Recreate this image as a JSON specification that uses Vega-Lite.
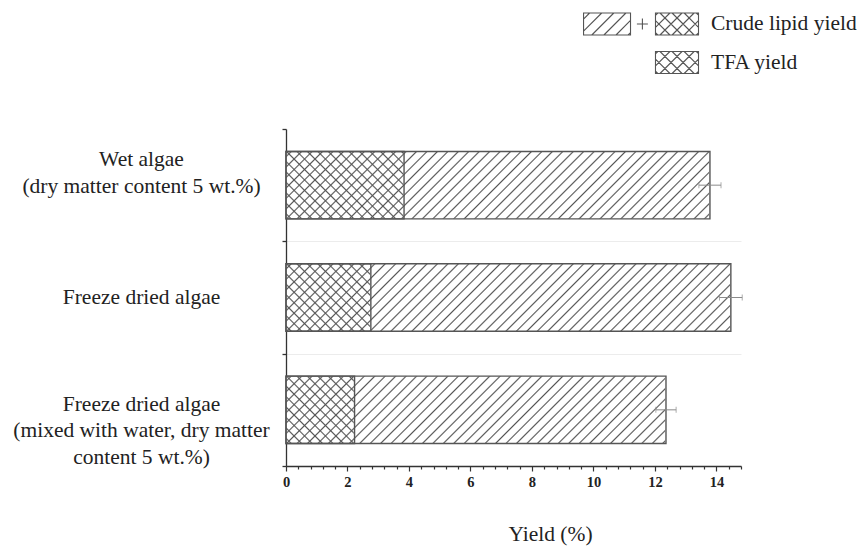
{
  "$schema": "https://vega.github.io/schema/vega-lite/v6.json",
  "width": 455,
  "height": 337,
  "autosize": {"type": "none"},
  "padding": {"left": 286, "top": 129, "right": 118, "bottom": 81},
  "background": "white",
  "config": {"view": {"stroke": null}, "font": "Liberation Serif, Times New Roman, serif"},
  "title": {"text": "Yield (%)", "orient": "bottom", "anchor": "middle", "frame": "group", "offset": 35, "dx": 37,
    "font": "Liberation Serif, Times New Roman, serif", "fontSize": 21.5, "fontWeight": "normal", "color": "#222"},
  "data": {"values": [
    {"sample": "Wet algae|(dry matter content 5 wt.%)", "Crude lipid yield": 13.79, "TFA yield": 3.84, "sd": 0.36},
    {"sample": "Freeze dried algae", "Crude lipid yield": 14.47, "TFA yield": 2.76, "sd": 0.37},
    {"sample": "Freeze dried algae|(mixed with water, dry matter|content 5 wt.%)", "Crude lipid yield": 12.36, "TFA yield": 2.23, "sd": 0.33}
  ]},
  "encoding": {
    "y": {
      "field": "sample", "type": "nominal", "sort": null, "title": null,
      "scale": {"paddingInner": 0, "paddingOuter": 0},
      "axis": {
        "labels": false,
        "tickBand": "extent", "tickSize": 4, "tickColor": "#333", "tickWidth": 1.3,
        "domainColor": "#333", "domainWidth": 1.3,
        "grid": true,
        "gridColor": {"condition": {"test": "datum.extra", "value": "rgba(0,0,0,0)"}, "value": "#ececec"}
      }
    }
  },
  "layer": [
    {
      "mark": {"type": "bar", "height": {"band": 0.6}, "fill": {"gradient": "linear", "x1": 0, "y1": 1, "x2": 1.12348, "y2": 0.83358, "stops": [
        {"offset":0.007,"color":"#fff"},{"offset":0.01,"color":"#555"},{"offset":0.013,"color":"#fff"},
        {"offset":0.027,"color":"#fff"},{"offset":0.03,"color":"#555"},{"offset":0.033,"color":"#fff"},
        {"offset":0.047,"color":"#fff"},{"offset":0.05,"color":"#555"},{"offset":0.053,"color":"#fff"},
        {"offset":0.067,"color":"#fff"},{"offset":0.07,"color":"#555"},{"offset":0.073,"color":"#fff"},
        {"offset":0.087,"color":"#fff"},{"offset":0.09,"color":"#555"},{"offset":0.093,"color":"#fff"},
        {"offset":0.107,"color":"#fff"},{"offset":0.11,"color":"#555"},{"offset":0.113,"color":"#fff"},
        {"offset":0.127,"color":"#fff"},{"offset":0.13,"color":"#555"},{"offset":0.133,"color":"#fff"},
        {"offset":0.147,"color":"#fff"},{"offset":0.15,"color":"#555"},{"offset":0.153,"color":"#fff"},
        {"offset":0.167,"color":"#fff"},{"offset":0.17,"color":"#555"},{"offset":0.173,"color":"#fff"},
        {"offset":0.187,"color":"#fff"},{"offset":0.19,"color":"#555"},{"offset":0.193,"color":"#fff"},
        {"offset":0.207,"color":"#fff"},{"offset":0.21,"color":"#555"},{"offset":0.213,"color":"#fff"},
        {"offset":0.227,"color":"#fff"},{"offset":0.23,"color":"#555"},{"offset":0.233,"color":"#fff"},
        {"offset":0.247,"color":"#fff"},{"offset":0.25,"color":"#555"},{"offset":0.253,"color":"#fff"},
        {"offset":0.267,"color":"#fff"},{"offset":0.27,"color":"#555"},{"offset":0.273,"color":"#fff"},
        {"offset":0.287,"color":"#fff"},{"offset":0.29,"color":"#555"},{"offset":0.293,"color":"#fff"},
        {"offset":0.307,"color":"#fff"},{"offset":0.31,"color":"#555"},{"offset":0.313,"color":"#fff"},
        {"offset":0.327,"color":"#fff"},{"offset":0.33,"color":"#555"},{"offset":0.333,"color":"#fff"},
        {"offset":0.347,"color":"#fff"},{"offset":0.35,"color":"#555"},{"offset":0.353,"color":"#fff"},
        {"offset":0.367,"color":"#fff"},{"offset":0.37,"color":"#555"},{"offset":0.373,"color":"#fff"},
        {"offset":0.387,"color":"#fff"},{"offset":0.39,"color":"#555"},{"offset":0.393,"color":"#fff"},
        {"offset":0.407,"color":"#fff"},{"offset":0.41,"color":"#555"},{"offset":0.413,"color":"#fff"},
        {"offset":0.427,"color":"#fff"},{"offset":0.43,"color":"#555"},{"offset":0.433,"color":"#fff"},
        {"offset":0.447,"color":"#fff"},{"offset":0.45,"color":"#555"},{"offset":0.453,"color":"#fff"},
        {"offset":0.467,"color":"#fff"},{"offset":0.47,"color":"#555"},{"offset":0.473,"color":"#fff"},
        {"offset":0.487,"color":"#fff"},{"offset":0.49,"color":"#555"},{"offset":0.493,"color":"#fff"},
        {"offset":0.507,"color":"#fff"},{"offset":0.51,"color":"#555"},{"offset":0.513,"color":"#fff"},
        {"offset":0.527,"color":"#fff"},{"offset":0.53,"color":"#555"},{"offset":0.533,"color":"#fff"},
        {"offset":0.547,"color":"#fff"},{"offset":0.55,"color":"#555"},{"offset":0.553,"color":"#fff"},
        {"offset":0.567,"color":"#fff"},{"offset":0.57,"color":"#555"},{"offset":0.573,"color":"#fff"},
        {"offset":0.587,"color":"#fff"},{"offset":0.59,"color":"#555"},{"offset":0.593,"color":"#fff"},
        {"offset":0.607,"color":"#fff"},{"offset":0.61,"color":"#555"},{"offset":0.613,"color":"#fff"},
        {"offset":0.627,"color":"#fff"},{"offset":0.63,"color":"#555"},{"offset":0.633,"color":"#fff"},
        {"offset":0.647,"color":"#fff"},{"offset":0.65,"color":"#555"},{"offset":0.653,"color":"#fff"},
        {"offset":0.667,"color":"#fff"},{"offset":0.67,"color":"#555"},{"offset":0.673,"color":"#fff"},
        {"offset":0.687,"color":"#fff"},{"offset":0.69,"color":"#555"},{"offset":0.693,"color":"#fff"},
        {"offset":0.707,"color":"#fff"},{"offset":0.71,"color":"#555"},{"offset":0.713,"color":"#fff"},
        {"offset":0.727,"color":"#fff"},{"offset":0.73,"color":"#555"},{"offset":0.733,"color":"#fff"},
        {"offset":0.747,"color":"#fff"},{"offset":0.75,"color":"#555"},{"offset":0.753,"color":"#fff"},
        {"offset":0.767,"color":"#fff"},{"offset":0.77,"color":"#555"},{"offset":0.773,"color":"#fff"},
        {"offset":0.787,"color":"#fff"},{"offset":0.79,"color":"#555"},{"offset":0.793,"color":"#fff"},
        {"offset":0.807,"color":"#fff"},{"offset":0.81,"color":"#555"},{"offset":0.813,"color":"#fff"},
        {"offset":0.827,"color":"#fff"},{"offset":0.83,"color":"#555"},{"offset":0.833,"color":"#fff"},
        {"offset":0.847,"color":"#fff"},{"offset":0.85,"color":"#555"},{"offset":0.853,"color":"#fff"},
        {"offset":0.867,"color":"#fff"},{"offset":0.87,"color":"#555"},{"offset":0.873,"color":"#fff"},
        {"offset":0.887,"color":"#fff"},{"offset":0.89,"color":"#555"},{"offset":0.893,"color":"#fff"},
        {"offset":0.907,"color":"#fff"},{"offset":0.91,"color":"#555"},{"offset":0.913,"color":"#fff"},
        {"offset":0.927,"color":"#fff"},{"offset":0.93,"color":"#555"},{"offset":0.933,"color":"#fff"},
        {"offset":0.947,"color":"#fff"},{"offset":0.95,"color":"#555"},{"offset":0.953,"color":"#fff"},
        {"offset":0.967,"color":"#fff"},{"offset":0.97,"color":"#555"},{"offset":0.973,"color":"#fff"},
        {"offset":0.987,"color":"#fff"},{"offset":0.99,"color":"#555"},{"offset":0.993,"color":"#fff"}
      ]}},
      "encoding": {
        "x": {"datum": 0, "type": "quantitative", "title": null,
          "scale": {"domain": [0, 14.8], "nice": false, "zero": true},
          "axis": {
            "values": [0,0.4,0.8,1.2,1.6,2,2.4,2.8,3.2,3.6,4,4.4,4.8,5.2,5.6,6,6.4,6.8,7.2,7.6,8,8.4,8.8,9.2,9.6,10,10.4,10.8,11.2,11.6,12,12.4,12.8,13.2,13.6,14,14.4,14.8],
            "tickCount": 40,
            "labelExpr": "datum.value % 2 === 0 ? format(datum.value, 'd') : ''",
            "tickSize": 5,
            "tickDash": {"condition": {"test": "datum.value % 2 === 0", "value": []}, "value": [3, 10]},
            "labelFont": "Liberation Serif, Times New Roman, serif", "labelFontSize": 14.5, "labelFontWeight": "bold", "labelColor": "#222",
            "labelPadding": 4, "labelFlush": false, "labelOverlap": false,
            "tickColor": "#333", "tickWidth": 1.2, "domainColor": "#333", "domainWidth": 1.3, "grid": false
          }
        },
        "x2": {"datum": 14.8}
      }
    },
    {
      "mark": {"type": "bar", "height": {"band": 0.6}, "fill": "#fff", "stroke": "#fff", "strokeWidth": 1.5},
      "encoding": {"x": {"field": "TFA yield", "type": "quantitative", "title": null}, "x2": {"datum": 14.8}}
    },
    {
      "mark": {"type": "bar", "height": {"band": 0.6}, "fill": {"gradient": "linear", "x1": 0, "y1": 0, "x2": 1.12348, "y2": 0.16642, "stops": [
        {"offset":0.007,"color":"rgba(85,85,85,0)"},{"offset":0.01,"color":"#555"},{"offset":0.013,"color":"rgba(85,85,85,0)"},
        {"offset":0.027,"color":"rgba(85,85,85,0)"},{"offset":0.03,"color":"#555"},{"offset":0.033,"color":"rgba(85,85,85,0)"},
        {"offset":0.047,"color":"rgba(85,85,85,0)"},{"offset":0.05,"color":"#555"},{"offset":0.053,"color":"rgba(85,85,85,0)"},
        {"offset":0.067,"color":"rgba(85,85,85,0)"},{"offset":0.07,"color":"#555"},{"offset":0.073,"color":"rgba(85,85,85,0)"},
        {"offset":0.087,"color":"rgba(85,85,85,0)"},{"offset":0.09,"color":"#555"},{"offset":0.093,"color":"rgba(85,85,85,0)"},
        {"offset":0.107,"color":"rgba(85,85,85,0)"},{"offset":0.11,"color":"#555"},{"offset":0.113,"color":"rgba(85,85,85,0)"},
        {"offset":0.127,"color":"rgba(85,85,85,0)"},{"offset":0.13,"color":"#555"},{"offset":0.133,"color":"rgba(85,85,85,0)"},
        {"offset":0.147,"color":"rgba(85,85,85,0)"},{"offset":0.15,"color":"#555"},{"offset":0.153,"color":"rgba(85,85,85,0)"},
        {"offset":0.167,"color":"rgba(85,85,85,0)"},{"offset":0.17,"color":"#555"},{"offset":0.173,"color":"rgba(85,85,85,0)"},
        {"offset":0.187,"color":"rgba(85,85,85,0)"},{"offset":0.19,"color":"#555"},{"offset":0.193,"color":"rgba(85,85,85,0)"},
        {"offset":0.207,"color":"rgba(85,85,85,0)"},{"offset":0.21,"color":"#555"},{"offset":0.213,"color":"rgba(85,85,85,0)"},
        {"offset":0.227,"color":"rgba(85,85,85,0)"},{"offset":0.23,"color":"#555"},{"offset":0.233,"color":"rgba(85,85,85,0)"},
        {"offset":0.247,"color":"rgba(85,85,85,0)"},{"offset":0.25,"color":"#555"},{"offset":0.253,"color":"rgba(85,85,85,0)"},
        {"offset":0.267,"color":"rgba(85,85,85,0)"},{"offset":0.27,"color":"#555"},{"offset":0.273,"color":"rgba(85,85,85,0)"},
        {"offset":0.287,"color":"rgba(85,85,85,0)"},{"offset":0.29,"color":"#555"},{"offset":0.293,"color":"rgba(85,85,85,0)"},
        {"offset":0.307,"color":"rgba(85,85,85,0)"},{"offset":0.31,"color":"#555"},{"offset":0.313,"color":"rgba(85,85,85,0)"},
        {"offset":0.327,"color":"rgba(85,85,85,0)"},{"offset":0.33,"color":"#555"},{"offset":0.333,"color":"rgba(85,85,85,0)"},
        {"offset":0.347,"color":"rgba(85,85,85,0)"},{"offset":0.35,"color":"#555"},{"offset":0.353,"color":"rgba(85,85,85,0)"},
        {"offset":0.367,"color":"rgba(85,85,85,0)"},{"offset":0.37,"color":"#555"},{"offset":0.373,"color":"rgba(85,85,85,0)"},
        {"offset":0.387,"color":"rgba(85,85,85,0)"},{"offset":0.39,"color":"#555"},{"offset":0.393,"color":"rgba(85,85,85,0)"},
        {"offset":0.407,"color":"rgba(85,85,85,0)"},{"offset":0.41,"color":"#555"},{"offset":0.413,"color":"rgba(85,85,85,0)"},
        {"offset":0.427,"color":"rgba(85,85,85,0)"},{"offset":0.43,"color":"#555"},{"offset":0.433,"color":"rgba(85,85,85,0)"},
        {"offset":0.447,"color":"rgba(85,85,85,0)"},{"offset":0.45,"color":"#555"},{"offset":0.453,"color":"rgba(85,85,85,0)"},
        {"offset":0.467,"color":"rgba(85,85,85,0)"},{"offset":0.47,"color":"#555"},{"offset":0.473,"color":"rgba(85,85,85,0)"},
        {"offset":0.487,"color":"rgba(85,85,85,0)"},{"offset":0.49,"color":"#555"},{"offset":0.493,"color":"rgba(85,85,85,0)"},
        {"offset":0.507,"color":"rgba(85,85,85,0)"},{"offset":0.51,"color":"#555"},{"offset":0.513,"color":"rgba(85,85,85,0)"},
        {"offset":0.527,"color":"rgba(85,85,85,0)"},{"offset":0.53,"color":"#555"},{"offset":0.533,"color":"rgba(85,85,85,0)"},
        {"offset":0.547,"color":"rgba(85,85,85,0)"},{"offset":0.55,"color":"#555"},{"offset":0.553,"color":"rgba(85,85,85,0)"},
        {"offset":0.567,"color":"rgba(85,85,85,0)"},{"offset":0.57,"color":"#555"},{"offset":0.573,"color":"rgba(85,85,85,0)"},
        {"offset":0.587,"color":"rgba(85,85,85,0)"},{"offset":0.59,"color":"#555"},{"offset":0.593,"color":"rgba(85,85,85,0)"},
        {"offset":0.607,"color":"rgba(85,85,85,0)"},{"offset":0.61,"color":"#555"},{"offset":0.613,"color":"rgba(85,85,85,0)"},
        {"offset":0.627,"color":"rgba(85,85,85,0)"},{"offset":0.63,"color":"#555"},{"offset":0.633,"color":"rgba(85,85,85,0)"},
        {"offset":0.647,"color":"rgba(85,85,85,0)"},{"offset":0.65,"color":"#555"},{"offset":0.653,"color":"rgba(85,85,85,0)"},
        {"offset":0.667,"color":"rgba(85,85,85,0)"},{"offset":0.67,"color":"#555"},{"offset":0.673,"color":"rgba(85,85,85,0)"},
        {"offset":0.687,"color":"rgba(85,85,85,0)"},{"offset":0.69,"color":"#555"},{"offset":0.693,"color":"rgba(85,85,85,0)"},
        {"offset":0.707,"color":"rgba(85,85,85,0)"},{"offset":0.71,"color":"#555"},{"offset":0.713,"color":"rgba(85,85,85,0)"},
        {"offset":0.727,"color":"rgba(85,85,85,0)"},{"offset":0.73,"color":"#555"},{"offset":0.733,"color":"rgba(85,85,85,0)"},
        {"offset":0.747,"color":"rgba(85,85,85,0)"},{"offset":0.75,"color":"#555"},{"offset":0.753,"color":"rgba(85,85,85,0)"},
        {"offset":0.767,"color":"rgba(85,85,85,0)"},{"offset":0.77,"color":"#555"},{"offset":0.773,"color":"rgba(85,85,85,0)"},
        {"offset":0.787,"color":"rgba(85,85,85,0)"},{"offset":0.79,"color":"#555"},{"offset":0.793,"color":"rgba(85,85,85,0)"},
        {"offset":0.807,"color":"rgba(85,85,85,0)"},{"offset":0.81,"color":"#555"},{"offset":0.813,"color":"rgba(85,85,85,0)"},
        {"offset":0.827,"color":"rgba(85,85,85,0)"},{"offset":0.83,"color":"#555"},{"offset":0.833,"color":"rgba(85,85,85,0)"},
        {"offset":0.847,"color":"rgba(85,85,85,0)"},{"offset":0.85,"color":"#555"},{"offset":0.853,"color":"rgba(85,85,85,0)"},
        {"offset":0.867,"color":"rgba(85,85,85,0)"},{"offset":0.87,"color":"#555"},{"offset":0.873,"color":"rgba(85,85,85,0)"},
        {"offset":0.887,"color":"rgba(85,85,85,0)"},{"offset":0.89,"color":"#555"},{"offset":0.893,"color":"rgba(85,85,85,0)"},
        {"offset":0.907,"color":"rgba(85,85,85,0)"},{"offset":0.91,"color":"#555"},{"offset":0.913,"color":"rgba(85,85,85,0)"},
        {"offset":0.927,"color":"rgba(85,85,85,0)"},{"offset":0.93,"color":"#555"},{"offset":0.933,"color":"rgba(85,85,85,0)"},
        {"offset":0.947,"color":"rgba(85,85,85,0)"},{"offset":0.95,"color":"#555"},{"offset":0.953,"color":"rgba(85,85,85,0)"},
        {"offset":0.967,"color":"rgba(85,85,85,0)"},{"offset":0.97,"color":"#555"},{"offset":0.973,"color":"rgba(85,85,85,0)"},
        {"offset":0.987,"color":"rgba(85,85,85,0)"},{"offset":0.99,"color":"#555"},{"offset":0.993,"color":"rgba(85,85,85,0)"}
      ]}},
      "encoding": {"x": {"datum": 0, "type": "quantitative", "title": null}, "x2": {"datum": 14.8}}
    },
    {
      "mark": {"type": "bar", "height": {"band": 0.6}, "fill": "#fff", "stroke": "#fff", "strokeWidth": 1.5},
      "encoding": {"x": {"field": "Crude lipid yield", "type": "quantitative", "title": null}, "x2": {"datum": 14.8}}
    },
    {
      "mark": {"type": "bar", "height": {"band": 0.6}, "fill": "transparent", "stroke": "#555", "strokeWidth": 1.4},
      "encoding": {"x": {"field": "Crude lipid yield", "type": "quantitative", "title": null}}
    },
    {
      "mark": {"type": "bar", "height": {"band": 0.6}, "fill": "transparent", "stroke": "#555", "strokeWidth": 1.4},
      "encoding": {"x": {"field": "TFA yield", "type": "quantitative", "title": null}}
    },
    {
      "mark": {"type": "errorbar", "color": "#8a8a8a", "thickness": 1, "ticks": {"size": 6, "thickness": 1}},
      "encoding": {"x": {"field": "Crude lipid yield", "type": "quantitative", "title": null}, "xError": {"field": "sd"}}
    },
    {
      "transform": [{"filter": "datum.sample === 'Wet algae|(dry matter content 5 wt.%)'"}],
      "mark": {"type": "text", "lineBreak": "|", "align": "center", "baseline": "middle", "dy": -25, "lineHeight": 26.5,
        "font": "Liberation Serif, Times New Roman, serif", "fontSize": 21.5, "color": "#222"},
      "encoding": {"x": {"datum": -4.7, "type": "quantitative", "title": null}, "text": {"field": "sample"}}
    },
    {
      "transform": [{"filter": "datum.sample === 'Freeze dried algae'"}],
      "mark": {"type": "text", "lineBreak": "|", "align": "center", "baseline": "middle", "dy": 0, "lineHeight": 26.5,
        "font": "Liberation Serif, Times New Roman, serif", "fontSize": 21.5, "color": "#222"},
      "encoding": {"x": {"datum": -4.7, "type": "quantitative", "title": null}, "text": {"field": "sample"}}
    },
    {
      "transform": [{"filter": "indexof(datum.sample, 'mixed') >= 0"}],
      "mark": {"type": "text", "lineBreak": "|", "align": "center", "baseline": "middle", "dy": -5, "lineHeight": 26.5,
        "font": "Liberation Serif, Times New Roman, serif", "fontSize": 21.5, "color": "#222"},
      "encoding": {"x": {"datum": -4.7, "type": "quantitative", "title": null}, "text": {"field": "sample"}}
    },
    {
      "transform": [{"fold": ["Crude lipid yield", "TFA yield"], "as": ["series", "val"]}],
      "mark": {"type": "point", "opacity": 0},
      "encoding": {
        "x": {"field": "val", "type": "quantitative", "title": null},
        "shape": {"field": "series", "type": "nominal",
          "scale": {"domain": ["Crude lipid yield", "TFA yield"], "range": [
            "M-9.45,-1H-5.18V1H-9.45Z M-9.45,-0.45L-8.9,-1 M-9.45,0.65L-7.8,-1 M-8.7,1L-6.7,-1 M-7.6,1L-5.6,-1 M-6.5,1L-5.18,-0.32 M-5.4,1L-5.18,0.78 M-4.6,0H-3.6 M-4.1,-0.5V0.5 M-2.91,-1H1V1H-2.91Z M-2.91,-0.79L-2.7,-1 M-2.91,0.31L-1.6,-1 M-2.5,1L-0.5,-1 M-1.4,1L0.6,-1 M-0.3,1L1,-0.3 M0.8,1L1,0.8 M-2.91,0.79L-2.7,1 M-2.91,-0.31L-1.6,1 M-2.5,-1L-0.5,1 M-1.4,-1L0.6,1 M-0.3,-1L1,0.3 M0.8,-1L1,-0.8",
            "M-2.91,-1H1V1H-2.91Z M-2.91,-0.79L-2.7,-1 M-2.91,0.31L-1.6,-1 M-2.5,1L-0.5,-1 M-1.4,1L0.6,-1 M-0.3,1L1,-0.3 M0.8,1L1,0.8 M-2.91,0.79L-2.7,1 M-2.91,-0.31L-1.6,1 M-2.5,-1L-0.5,1 M-1.4,-1L0.6,1 M-0.3,-1L1,0.3 M0.8,-1L1,-0.8"
          ]},
          "legend": {
            "title": null, "orient": "none", "legendX": 389.5, "legendY": -117, "padding": 0,
            "symbolSize": 484, "symbolStrokeColor": "#555", "symbolFillColor": "#fff", "symbolStrokeWidth": 1.1, "symbolOpacity": 1,
            "labelFont": "Liberation Serif, Times New Roman, serif", "labelFontSize": 21.5, "labelColor": "#222", "labelOffset": 11.5, "labelLimit": 300,
            "rowPadding": 10.5
          }
        }
      }
    }
  ]
}
